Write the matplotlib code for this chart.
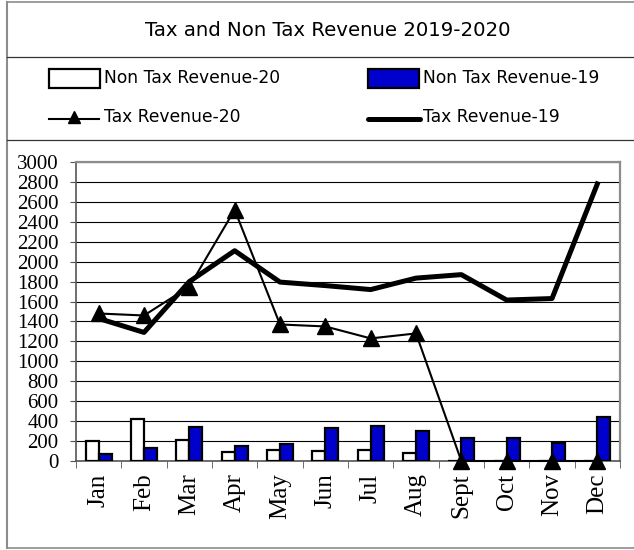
import numpy as np
import matplotlib
matplotlib.use("Agg")
import matplotlib.pyplot as plt
from matplotlib.patches import Rectangle
from matplotlib.lines import Line2D

# datos
meses = ["Jan", "Feb", "Mar", "Apr", "May", "Jun", "Jul", "Aug", "Sept", "Oct", "Nov", "Dec"]
non_tax_20 = [200, 420, 210, 90, 110, 100, 115, 85, 0, 0, 0, 0]
non_tax_19 = [75, 130, 345, 155, 170, 330, 350, 300, 235, 230, 185, 440]
tax_20 = [1480, 1460, 1750, 2520, 1370, 1350, 1230, 1280, 0, 0, 0, 0]
tax_19 = [1430, 1290, 1800, 2110, 1795, 1760, 1720, 1835, 1870, 1615, 1630, 2780]
yticks = list(range(0, 3001, 200))

W, H = 634, 550
fig = plt.figure(figsize=(W / 100, H / 100), dpi=100)


# pixeles (desde arriba-izquierda) -> fraccion de figura
def fx(px):
    return px / W


def fy(py):
    return 1 - py / H


# marco y separadores
gris = "#8c8c8c"
fig.add_artist(Line2D([fx(7), fx(7)], [fy(2), fy(548)], color=gris, lw=1.5))
fig.add_artist(Line2D([fx(7), fx(634)], [fy(2), fy(2)], color=gris, lw=1.2))
fig.add_artist(Line2D([fx(7), fx(634)], [fy(548), fy(548)], color=gris, lw=1.2))
fig.add_artist(Line2D([fx(7), fx(634)], [fy(57), fy(57)], color="#333333", lw=0.9))
fig.add_artist(Line2D([fx(7), fx(634)], [fy(140), fy(140)], color="#333333", lw=0.9))

fig.text(fx(328), fy(31), "Tax and Non Tax Revenue 2019-2020", ha="center", va="center",
         fontsize=14.2, family="DejaVu Sans")

# leyenda hecha a mano
azul = "#0000cc"
fs_ley = 12.3
fig.add_artist(Rectangle((fx(49), fy(88)), fx(51), 19 / H, facecolor="white", edgecolor="black", lw=1.6))
fig.text(fx(104), fy(78), "Non Tax Revenue-20", va="center", fontsize=fs_ley)
fig.add_artist(Rectangle((fx(368), fy(88)), fx(51), 19 / H, facecolor=azul, edgecolor="black", lw=1.6))
fig.text(fx(423), fy(78), "Non Tax Revenue-19", va="center", fontsize=fs_ley)
fig.add_artist(Line2D([fx(49), fx(99)], [fy(119), fy(119)], color="black", lw=1.5))
fig.add_artist(Line2D([fx(74)], [fy(117)], color="black", marker="^", ms=8))
fig.text(fx(104), fy(117), "Tax Revenue-20", va="center", fontsize=fs_ley)
fig.add_artist(Line2D([fx(368), fx(420)], [fy(119), fy(119)], color="black", lw=3.6, solid_capstyle="round"))
fig.text(fx(423), fy(117), "Tax Revenue-19", va="center", fontsize=fs_ley)

# ejes
ax = fig.add_axes([fx(76), fy(461), (620 - 76) / W, (461 - 162) / H])
x = np.arange(len(meses))
bw = 0.29
ax.bar(x - bw / 2, non_tax_20, bw, color="white", edgecolor="black", lw=1.6, zorder=3)
ax.bar(x + bw / 2, non_tax_19, bw, color=azul, edgecolor="black", lw=1.6, zorder=3)
ax.plot(x, tax_19, color="black", lw=3.6, zorder=4)
ax.plot(x, tax_20, color="black", lw=1.5, marker="^", ms=12, zorder=5, clip_on=False)

ax.set_xlim(-0.5, 11.5)
ax.set_ylim(0, 3000)
ax.set_yticks(yticks)
ax.set_yticklabels([str(v) for v in yticks], family="Liberation Serif", fontsize=15)
ax.grid(axis="y", color="black", lw=0.8, zorder=0)
ax.set_axisbelow(True)

ax.set_xticks(x)
ax.set_xticklabels(meses, rotation=90, family="Liberation Serif", fontsize=18)
ax.set_xticks(np.arange(-0.5, 12, 1), minor=True)
ax.tick_params(axis="x", which="major", length=0, pad=9)
ax.tick_params(axis="x", which="minor", length=5, color="#555555", direction="out")
ax.tick_params(axis="y", length=4.5, color="#555555", pad=8)

for lado in ["top", "right"]:
    ax.spines[lado].set_color(gris)
    ax.spines[lado].set_linewidth(1.6)
for lado in ["left", "bottom"]:
    ax.spines[lado].set_color("#555555")
    ax.spines[lado].set_linewidth(1.2)

fig.savefig("out.png", dpi=100)
